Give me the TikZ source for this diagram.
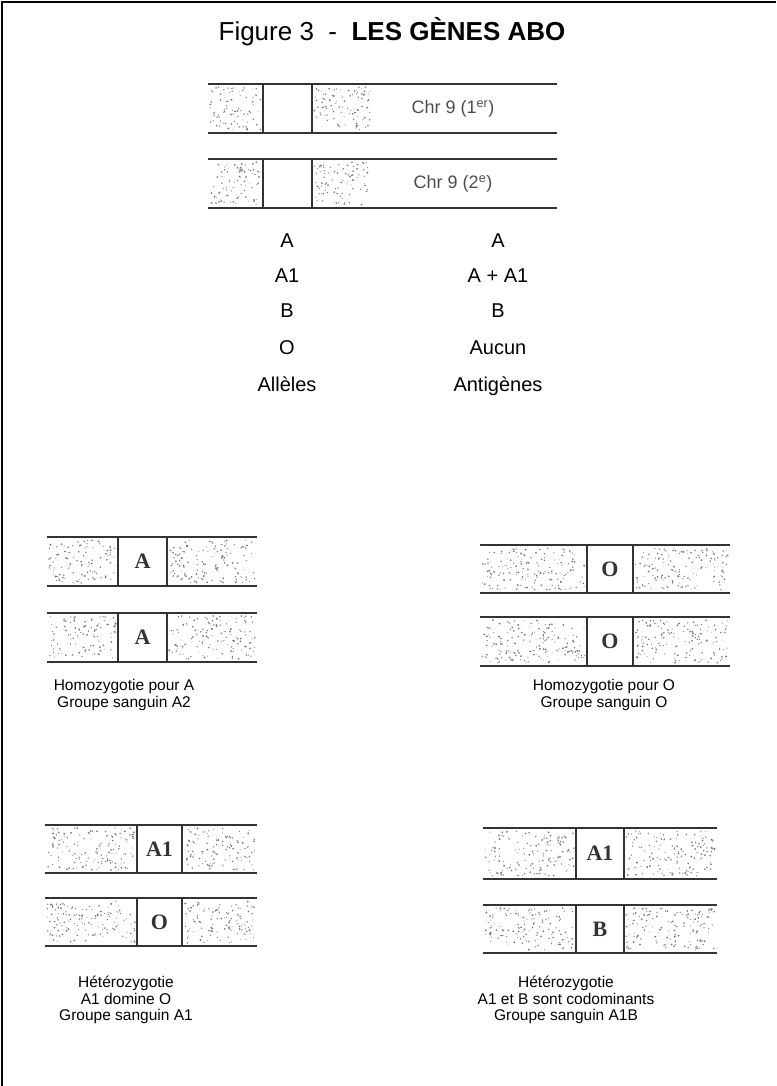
\documentclass[tikz,border=0pt]{standalone}
\usepackage{fontspec}
\setmainfont{Liberation Sans}
\newfontfamily\genefont{Liberation Serif}
\tikzset{
  chrline/.style={line width=1.6pt, draw=black!80},
  genebox/.style={draw=black!80, line width=1.3pt, fill=white, inner sep=0pt,
    font=\genefont\bfseries\fontsize{22}{22}\selectfont, text=black!80},
  lbl/.style={font=\fontsize{15.5}{16.5}\selectfont, align=center, inner sep=0pt},
  tbl/.style={font=\fontsize{20}{20}\selectfont, inner sep=0pt, anchor=base},
  chrtxt/.style={font=\fontsize{18}{18}\selectfont, text=black!70, inner sep=0pt},
  dotc/.style={fill=black!55},
}
\newcommand\stip[4]{%
  \pgfmathtruncatemacro\nd{abs((#3-#1)*(#4-#2))/32}%
  \foreach \k in {1,...,\nd}{%
    \pgfmathsetmacro\px{#1+2+rnd*(#3-#1-4)}%
    \pgfmathsetmacro\py{#2+3+rnd*(#4-#2-6)}%
    \pgfmathsetmacro\pr{0.45+0.55*rnd}%
    \fill[dotc] (\px,\py) circle (\pr);
  }}
\newcommand\chr[9]{%
  \stip{#2}{#4}{#6}{#5}
  \stip{#7}{#4}{#9}{#5}
  \draw[chrline] (#2,#4) -- (#3,#4);
  \draw[chrline] (#2,#5) -- (#3,#5);
  \node[genebox, minimum width={#7-#6}, minimum height={#5-#4}] (#1) at ({(#6+#7)/2},{(#4+#5)/2}) {#8};
}
\begin{document}
\begin{tikzpicture}[x=1pt,y=-1pt]
\pgfmathsetseed{4242}
\useasboundingbox (0,0) rectangle (776,1086);
\draw[line width=1.5pt] (2,1086) -- (2,2) -- (776,2);
\node (title) at (392,32) {\fontsize{26}{26}\selectfont Figure 3 \ - \ \textbf{LES GÈNES ABO}};
% top chromosomes
\chr{g1}{208}{557}{84}{133}{263}{312}{}{372}
\chr{g2}{208}{557}{159}{208}{263}{312}{}{370}
\node[chrtxt] (c1) at (453,109) {Chr 9 (1\textsuperscript{er})};
\node[chrtxt] (c2) at (453,184) {Chr 9 (2\textsuperscript{e})};
% table
\node[tbl] (t1) at (287,247) {A};
\node[tbl] (t2) at (287,282) {A1};
\node[tbl] (t3) at (287,317) {B};
\node[tbl] (t4) at (287,354) {O};
\node[tbl] (t5) at (287,391) {Allèles};
\node[tbl] (u1) at (498,247) {A};
\node[tbl] (u2) at (498,282) {A + A1};
\node[tbl] (u3) at (498,317) {B};
\node[tbl] (u4) at (498,354) {Aucun};
\node[tbl] (u5) at (498,391) {Antigènes};
% pairs
\chr{a1}{47}{257}{537}{586}{118}{167}{A}{257}
\chr{a2}{47}{257}{613}{662}{118}{167}{A}{257}
\chr{o1}{480}{730}{545}{593}{587}{633}{O}{730}
\chr{o2}{480}{730}{617}{666}{587}{633}{O}{730}
\chr{b1}{45}{257}{825}{873}{137}{182}{A1}{257}
\chr{b2}{45}{257}{898}{946}{137}{182}{O}{257}
\chr{d1}{483}{717}{828}{879}{576}{624}{A1}{717}
\chr{d2}{483}{717}{905}{953}{576}{624}{B}{717}
% labels
\node[lbl] (l1) at (124,695) {Homozygotie pour A\\Groupe sanguin A2};
\node[lbl] (l2) at (604,695) {Homozygotie pour O\\Groupe sanguin O};
\node[lbl] (l3) at (126,1000) {Hétérozygotie\\A1 domine O\\Groupe sanguin A1};
\node[lbl] (l4) at (566,1000) {Hétérozygotie\\A1 et B sont codominants\\Groupe sanguin A1B};
\end{tikzpicture}
\end{document}
